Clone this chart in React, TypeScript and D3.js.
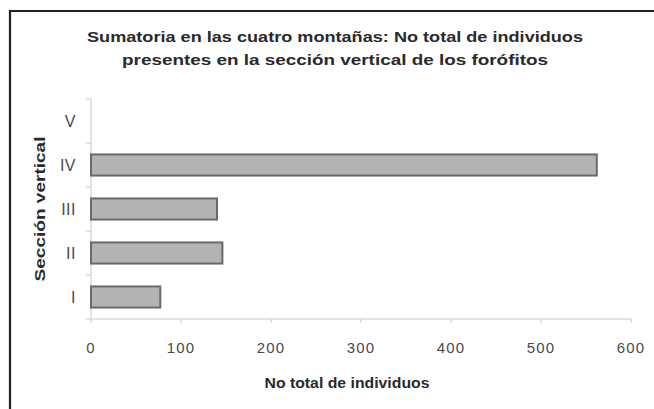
import React from "react";
import * as d3 from "d3";

const categories = ["I", "II", "III", "IV", "V"];
const values = [77, 146, 140, 562, 0];
const xTicks = [0, 100, 200, 300, 400, 500, 600];
const titleLines = [
  "Sumatoria en las cuatro montañas: No total de individuos",
  "presentes en la sección vertical de los forófitos",
];
const xTitle = "No total de individuos";
const yTitle = "Sección vertical";

export default function App() {
  const W = 654, H = 409;
  const left = 91, right = 631, top = 99, bottom = 319;
  const x = d3.scaleLinear().domain([0, 600]).range([left, right]);
  const y = d3
    .scaleBand<string>()
    .domain([...categories].reverse())
    .range([top, bottom])
    .paddingInner(0.52)
    .paddingOuter(0.26);
  const step = y.step();
  const bounds = categories.map((c) => (y(c) as number) - (step * 0.52) / 2);
  bounds.push(bottom);
  const font = "'Liberation Sans', Arial, sans-serif";
  const axisColor = "#c8c8c8";
  return (
    <svg
      width={W}
      height={H}
      style={{ position: "absolute", left: 0, top: 0, background: "#fff" }}
      fontFamily={font}
    >
      <rect x={0} y={0} width={W} height={H} fill="#fff" />
      {/* frame */}
      <line x1={10} y1={11} x2={W} y2={11} stroke="#222" strokeWidth={2} />
      <line x1={10} y1={10} x2={10} y2={H} stroke="#222" strokeWidth={2.2} />
      {/* title */}
      <text x={335} y={42} textAnchor="middle" fontSize={15} fontWeight="bold" fill="#2a2a2a"
        textLength={496} lengthAdjust="spacingAndGlyphs">{titleLines[0]}</text>
      <text x={335} y={65} textAnchor="middle" fontSize={15} fontWeight="bold" fill="#2a2a2a"
        textLength={426} lengthAdjust="spacingAndGlyphs">{titleLines[1]}</text>
      {/* axes */}
      <line x1={left} y1={top} x2={left} y2={bottom} stroke={axisColor} strokeWidth={1} />
      <line x1={left} y1={bottom} x2={right} y2={bottom} stroke={axisColor} strokeWidth={1} />
      {bounds.map((b, i) => (
        <line key={"yt" + i} x1={left - 5} x2={left} y1={b} y2={b} stroke={axisColor} />
      ))}
      {xTicks.map((t) => (
        <g key={"xt" + t}>
          <line x1={x(t)} x2={x(t)} y1={bottom} y2={bottom + 4} stroke={axisColor} />
          <text x={x(t)} y={353} textAnchor="middle" fontSize={15} fill="#4a4a4a" letterSpacing={1.2}>
            {t}
          </text>
        </g>
      ))}
      {categories.map((c) => (
        <text key={"yl" + c} x={76} y={(y(c) as number) + y.bandwidth() / 2 + 5.5}
          textAnchor="end" fontSize={16} fill="#4a4a4a" letterSpacing={0.5}>
          {c}
        </text>
      ))}
      {/* bars */}
      {categories.map((c, i) =>
        values[i] > 0 ? (
          <rect key={"b" + c} x={x(0)} y={y(c) as number} width={x(values[i]) - x(0)}
            height={y.bandwidth()} fill="#b3b3b3" stroke="#6a6a6a" strokeWidth={2} />
        ) : null
      )}
      {/* axis titles */}
      <text x={347} y={388} textAnchor="middle" fontSize={15} fontWeight="bold" fill="#2a2a2a"
        textLength={165} lengthAdjust="spacingAndGlyphs">{xTitle}</text>
      <text transform={`translate(45,${(top + bottom) / 2}) rotate(-90)`} textAnchor="middle"
        fontSize={15} fontWeight="bold" fill="#2a2a2a" textLength={145} lengthAdjust="spacingAndGlyphs">
        {yTitle}
      </text>
    </svg>
  );
}
